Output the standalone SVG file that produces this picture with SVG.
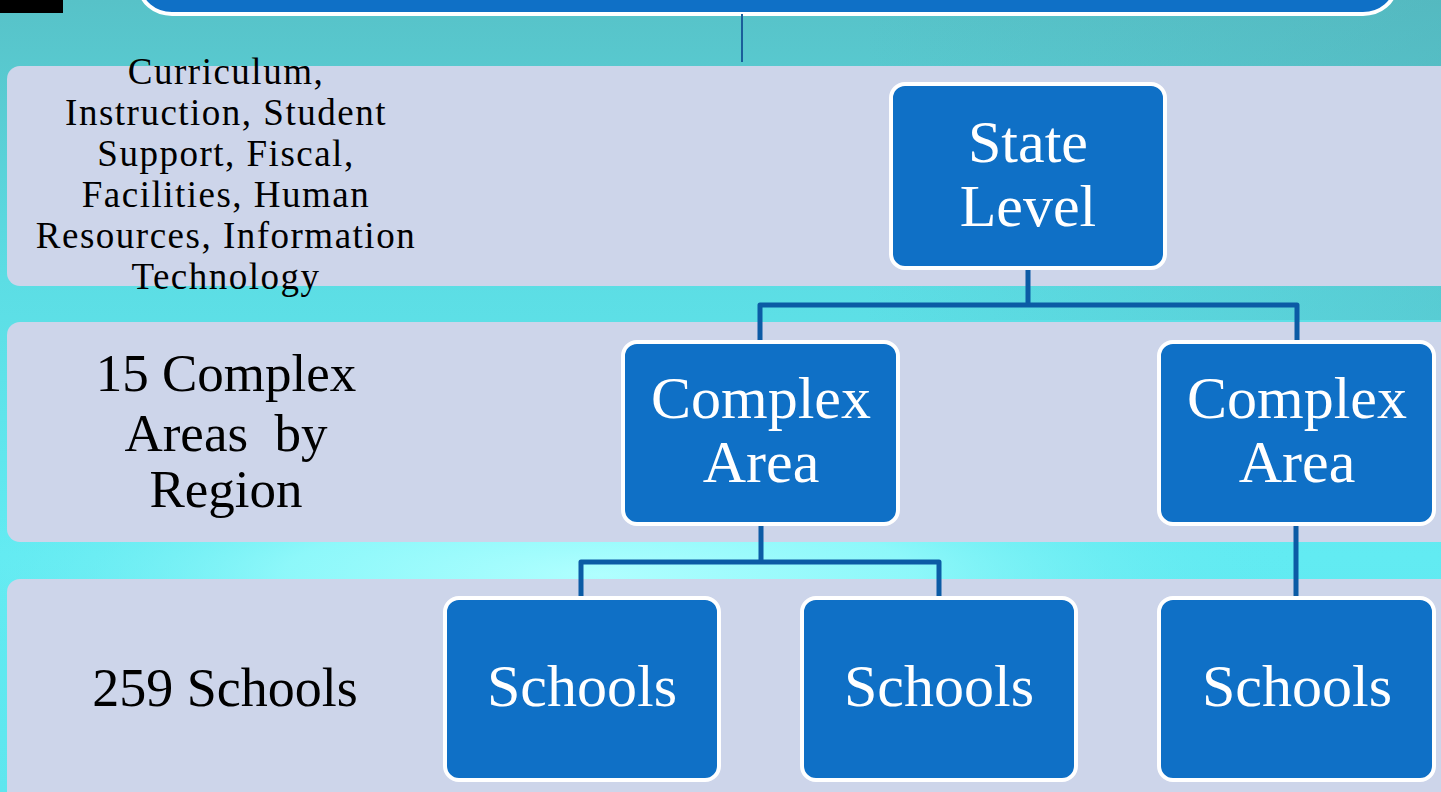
<svg xmlns="http://www.w3.org/2000/svg" width="1441" height="792" viewBox="0 0 1441 792">
<defs>
<linearGradient id="bg" x1="0" y1="0" x2="0" y2="1">
<stop offset="0" stop-color="#57c2c8"/>
<stop offset="0.35" stop-color="#5cdde4"/>
<stop offset="0.7" stop-color="#62ebf2"/>
<stop offset="1" stop-color="#5ee6ee"/>
</linearGradient>
<radialGradient id="hl" cx="600" cy="575" r="700" gradientUnits="userSpaceOnUse" gradientTransform="translate(600 575) scale(1 0.2) translate(-600 -575)">
<stop offset="0" stop-color="#b0ffff" stop-opacity="1"/>
<stop offset="0.45" stop-color="#98fbfc" stop-opacity="0.8"/>
<stop offset="1" stop-color="#5ee6ee" stop-opacity="0"/>
</radialGradient>
<linearGradient id="tr" x1="0" y1="0" x2="1" y2="0">
<stop offset="0.6" stop-color="#4fa9b2" stop-opacity="0"/>
<stop offset="1" stop-color="#4fa9b2" stop-opacity="0.35"/>
</linearGradient>
<style>
.band{fill:#cdd5ea;}
.node{fill:#0f70c6;stroke:#ffffff;stroke-width:4;}
.conn{fill:none;stroke:#0b5ba5;stroke-width:5;stroke-linejoin:round;}
.nt{font-family:"Liberation Serif",serif;font-size:60px;fill:#ffffff;text-anchor:middle;}
.lt{font-family:"Liberation Serif",serif;fill:#000000;text-anchor:middle;}
</style>
</defs>
<rect x="0" y="0" width="1441" height="792" fill="url(#bg)"/>
<rect x="0" y="0" width="1441" height="792" fill="url(#hl)"/>
<rect x="0" y="0" width="1441" height="320" fill="url(#tr)"/>
<rect x="0" y="0" width="63" height="13" fill="#000000"/>
<g id="top-node">
<rect class="node" x="140" y="-40" width="1255" height="54" rx="32"/>
</g>
<rect class="band" x="7" y="66" width="1460" height="220" rx="13"/>
<rect class="band" x="7" y="322" width="1460" height="220" rx="13"/>
<rect class="band" x="7" y="579" width="1460" height="240" rx="13"/>
<g id="connectors">
<line x1="742" y1="14" x2="742" y2="62" stroke="#1a5e9a" stroke-width="2"/>
<path class="conn" d="M1028 268 V305 H760 V342 M1028 305 H1297 V342"/>
<path class="conn" d="M761 524 V562 H581 V598 M761 562 H939 V598"/>
<path class="conn" d="M1296 524 V598"/>
</g>
<g id="label-state">
<text class="lt" font-size="37" letter-spacing="1.5" x="226"><tspan x="226" y="84">Curriculum,</tspan><tspan x="226" y="125">Instruction, Student</tspan><tspan x="226" y="166">Support, Fiscal,</tspan><tspan x="226" y="207">Facilities, Human</tspan><tspan x="226" y="248">Resources, Information</tspan><tspan x="226" y="289">Technology</tspan></text>
</g>
<g id="label-complex">
<text class="lt" font-size="53" x="226"><tspan x="226" y="391">15 Complex</tspan><tspan x="226" y="451" xml:space="preserve">Areas  by</tspan><tspan x="226" y="507">Region</tspan></text>
</g>
<g id="label-schools">
<text class="lt" font-size="54" x="225" y="706">259 Schools</text>
</g>
<g id="state-level">
<rect class="node" x="891" y="84" width="274" height="184" rx="14"/>
<text class="nt"><tspan x="1028" y="162">State</tspan><tspan x="1028" y="226">Level</tspan></text>
</g>
<g id="complex-area-1">
<rect class="node" x="623" y="342" width="275" height="182" rx="14"/>
<text class="nt"><tspan x="761" y="418">Complex</tspan><tspan x="761" y="482">Area</tspan></text>
</g>
<g id="complex-area-2">
<rect class="node" x="1159" y="342" width="275" height="182" rx="14"/>
<text class="nt"><tspan x="1297" y="418">Complex</tspan><tspan x="1297" y="482">Area</tspan></text>
</g>
<g id="schools-1">
<rect class="node" x="445" y="598" width="274" height="182" rx="14"/>
<text class="nt" x="582" y="706">Schools</text>
</g>
<g id="schools-2">
<rect class="node" x="802" y="598" width="274" height="182" rx="14"/>
<text class="nt" x="939" y="706">Schools</text>
</g>
<g id="schools-3">
<rect class="node" x="1159" y="598" width="275" height="182" rx="14"/>
<text class="nt" x="1297" y="706">Schools</text>
</g>
</svg>
